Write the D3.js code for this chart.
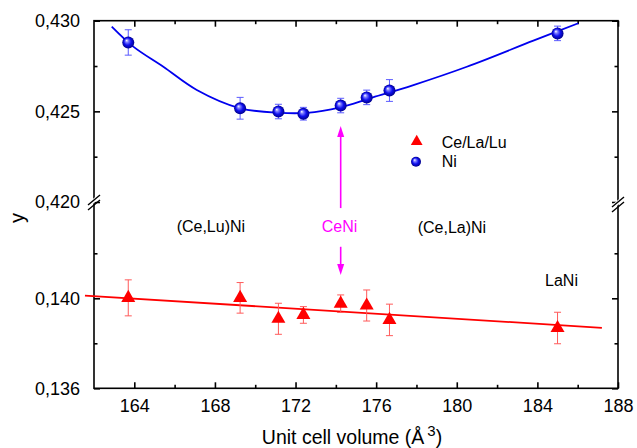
<!DOCTYPE html>
<html><head><meta charset="utf-8">
<script src="https://cdn.jsdelivr.net/npm/d3@7"></script>
<style>
html,body{margin:0;padding:0;background:#fff;}
svg{display:block;font-family:"Liberation Sans",Arial,sans-serif;}
</style></head>
<body>
<svg id="c" width="637" height="448"></svg>
<script>
// ---- data ----
const volumes = [163.70, 169.25, 171.15, 172.39, 174.24, 175.53, 176.66, 185.0];
const niY   = [0.42880, 0.42517, 0.42499, 0.42487, 0.42532, 0.42577, 0.42615, 0.42930];
const niErr = [0.0007, 0.0006, 0.0004, 0.00035, 0.0004, 0.0004, 0.0006, 0.0004];
const reY   = [0.14002, 0.14002, 0.13909, 0.13926, 0.13976, 0.13968, 0.13904, 0.13868];
const reErr = [0.0008, 0.00068, 0.00069, 0.00037, 0.00039, 0.00069, 0.0007, 0.0007];
// blue fit curve
const niFitX = [162.88, 163.95, 165.44, 167.10, 169.25, 171.23, 172.56, 174.21, 175.70, 177.85, 180.50, 183.80, 186.03];
const niFitY = [0.42967, 0.42857, 0.42746, 0.42618, 0.42517, 0.42492, 0.42492, 0.42522, 0.42572, 0.42645, 0.42746, 0.42890, 0.42986];
// red linear fit
const reFitX = [161.55, 187.2];
const reFitY = [0.14012, 0.13869];
// axis ticks
const xTicks = [164, 168, 172, 176, 180, 184, 188];
const xMinor = [166, 170, 174, 178, 182, 186];
const yTopTicks = [0.420, 0.425, 0.430];
const yTopMinor = [0.4225, 0.4275];
const yBotTicks = [0.136, 0.140];
const yBotMinor = [0.138, 0.142];
// annotations
const labels = [
  {t:"(Ce,Lu)Ni", x:166.1, y:0.14318, c:"#000"},
  {t:"CeNi", x:173.3, y:0.14318, c:"#ff00ff"},
  {t:"(Ce,La)Ni", x:178.06, y:0.14316, c:"#000"},
  {t:"LaNi", x:184.38, y:0.14078, c:"#000"}
];
const arrowX = 174.24;
const arrowUp = [0.14401, 0.42419];   // tail (lower scale), tip (upper scale)
const arrowDown = [0.14229, 0.14104]; // tail, tip (lower scale)

// ---- scales ----
const L = 94, R = 618, T = 20.7, B = 388.3, BRK = 202;
const x = d3.scaleLinear().domain([162, 188]).range([L, R]);
const yTop = d3.scaleLinear().domain([0.420, 0.430]).range([BRK, T]);
const yBot = d3.scaleLinear().domain([0.136, 0.140]).range([B, 298.3]);
const fmt = v => d3.format(".3f")(v).replace(".", ",");

const svg = d3.select("#c");
const defs = svg.append("defs");
const g = defs.append("radialGradient").attr("id","sph").attr("cx","50%").attr("cy","50%").attr("r","50%").attr("fx","35%").attr("fy","32%");
g.append("stop").attr("offset","0%").attr("stop-color","#ffffff");
g.append("stop").attr("offset","25%").attr("stop-color","#8080ff");
g.append("stop").attr("offset","60%").attr("stop-color","#1010f0");
g.append("stop").attr("offset","100%").attr("stop-color","#00008a");

// ---- axes ----
const axW = 1.6;
function styleAxis(sel){
  sel.select(".domain").remove();
  sel.selectAll(".tick line").attr("stroke","#000").attr("stroke-width",axW);
  sel.selectAll(".tick text").attr("font-size",18).attr("fill","#000").attr("font-family","Liberation Sans, Arial, sans-serif");
}
// bottom
svg.append("g").attr("transform",`translate(0,${B})`)
  .call(d3.axisBottom(x).tickValues(xTicks).tickSize(-6).tickPadding(11).tickFormat(d3.format("d"))).call(styleAxis);
svg.append("g").attr("transform",`translate(0,${B})`)
  .call(d3.axisBottom(x).tickValues(xMinor).tickSize(-3.5).tickFormat("")).call(styleAxis);
// top
svg.append("g").attr("transform",`translate(0,${T})`)
  .call(d3.axisTop(x).tickValues(xTicks).tickSize(-6).tickFormat("")).call(styleAxis);
svg.append("g").attr("transform",`translate(0,${T})`)
  .call(d3.axisTop(x).tickValues(xMinor).tickSize(-3.5).tickFormat("")).call(styleAxis);
// left / right
[[yTop,yTopTicks,yTopMinor],[yBot,yBotTicks,yBotMinor]].forEach(([s,tk,mn])=>{
  svg.append("g").attr("transform",`translate(${L},0)`)
    .call(d3.axisLeft(s).tickValues(tk).tickSize(-6).tickPadding(14).tickFormat(fmt)).call(styleAxis);
  svg.append("g").attr("transform",`translate(${L},0)`)
    .call(d3.axisLeft(s).tickValues(mn).tickSize(-3.5).tickFormat("")).call(styleAxis);
  svg.append("g").attr("transform",`translate(${R},0)`)
    .call(d3.axisRight(s).tickValues(tk).tickSize(-6).tickFormat("")).call(styleAxis);
  svg.append("g").attr("transform",`translate(${R},0)`)
    .call(d3.axisRight(s).tickValues(mn).tickSize(-3.5).tickFormat("")).call(styleAxis);
});
// frame
svg.append("rect").attr("x",L).attr("y",T).attr("width",R-L).attr("height",B-T)
  .attr("fill","none").attr("stroke","#000").attr("stroke-width",axW);

// break marks
[[L,BRK],[R,BRK+2]].forEach(([bx,by])=>{
  svg.append("polygon").attr("points",`${bx-6},${by+6} ${bx+6},${by-4} ${bx+6},${by-9} ${bx-6},${by+1}`).attr("fill","#fff");
  svg.append("line").attr("x1",bx-6).attr("y1",by+8).attr("x2",bx+6).attr("y2",by-2).attr("stroke","#000").attr("stroke-width",1.4);
  svg.append("line").attr("x1",bx-6).attr("y1",by+3).attr("x2",bx+6).attr("y2",by-7).attr("stroke","#000").attr("stroke-width",1.4);
});

// axis titles
svg.append("text").attr("x",352).attr("y",444).attr("text-anchor","middle").attr("font-size",19.5).attr("fill","#000")
  .html('Unit cell volume (Å<tspan dx="3" dy="-8" font-size="15">3</tspan><tspan dy="8">)</tspan>');
svg.append("text").attr("transform","translate(24,218) rotate(-90)").attr("text-anchor","middle").attr("font-size",20).attr("fill","#000").text("y");

// ---- red series ----
svg.append("path").datum(reFitX.map((v,i)=>[v,reFitY[i]]))
  .attr("d", d3.line().x(d=>x(d[0])).y(d=>yBot(d[1])))
  .attr("stroke","#ff0000").attr("stroke-width",1.8).attr("fill","none");
const eb = (sel, ys, errs, sc, col) => {
  volumes.forEach((v,i)=>{
    const cx = x(v), y1 = sc(ys[i]-errs[i]), y2 = sc(ys[i]+errs[i]);
    sel.append("line").attr("x1",cx).attr("x2",cx).attr("y1",y1).attr("y2",y2).attr("stroke",col).attr("stroke-width",1);
    [y1,y2].forEach(yy=>sel.append("line").attr("x1",cx-3.5).attr("x2",cx+3.5).attr("y1",yy).attr("y2",yy).attr("stroke",col).attr("stroke-width",1));
  });
};
eb(svg.append("g"), reY, reErr, yBot, "#ff5a5a");
svg.append("g").selectAll("path").data(volumes).join("path")
  .attr("transform",(d,i)=>`translate(${x(d)},${yBot(reY[i])})`)
  .attr("d", d3.symbol(d3.symbolTriangle, 85)).attr("fill","#ff0000");

// ---- blue series ----
svg.append("path").datum(niFitX.map((v,i)=>[v,niFitY[i]]))
  .attr("d", d3.line().curve(d3.curveCatmullRom.alpha(0.5)).x(d=>x(d[0])).y(d=>yTop(d[1])))
  .attr("stroke","#0000ee").attr("stroke-width",1.8).attr("fill","none");
eb(svg.append("g"), niY, niErr, yTop, "#5a5aff");
svg.append("g").selectAll("circle").data(volumes).join("circle")
  .attr("cx",d=>x(d)).attr("cy",(d,i)=>yTop(niY[i])).attr("r",6).attr("fill","url(#sph)");

// ---- arrows ----
const ax = x(arrowX);
const arrow = (y0, y1) => {
  const dir = y1 < y0 ? 1 : -1;
  svg.append("line").attr("x1",ax).attr("x2",ax).attr("y1",y0).attr("y2",y1+dir*8).attr("stroke","#ff00ff").attr("stroke-width",1.6);
  svg.append("polygon").attr("points",`${ax},${y1} ${ax-3.5},${y1+dir*11} ${ax+3.5},${y1+dir*11}`).attr("fill","#ff00ff");
};
arrow(yBot(arrowUp[0]), yTop(arrowUp[1]));
arrow(yBot(arrowDown[0]), yBot(arrowDown[1]));

// ---- labels ----
labels.forEach(l=>{
  svg.append("text").attr("x",x(l.x)).attr("y",yBot(l.y)).attr("dy","0.35em")
    .attr("font-size",16).attr("fill",l.c).text(l.t);
});

// ---- legend ----
const lg = svg.append("g");
lg.append("path").attr("transform","translate(416.7,141.5)").attr("d", d3.symbol(d3.symbolTriangle, 60)).attr("fill","#ff0000");
lg.append("text").attr("x",441.7).attr("y",142.3).attr("dy","0.35em").attr("font-size",16).attr("fill","#000").text("Ce/La/Lu");
lg.append("circle").attr("cx",416).attr("cy",161.7).attr("r",5).attr("fill","url(#sph)");
lg.append("text").attr("x",441.7).attr("y",161.7).attr("dy","0.35em").attr("font-size",16).attr("fill","#000").text("Ni");
</script>
</body></html>
